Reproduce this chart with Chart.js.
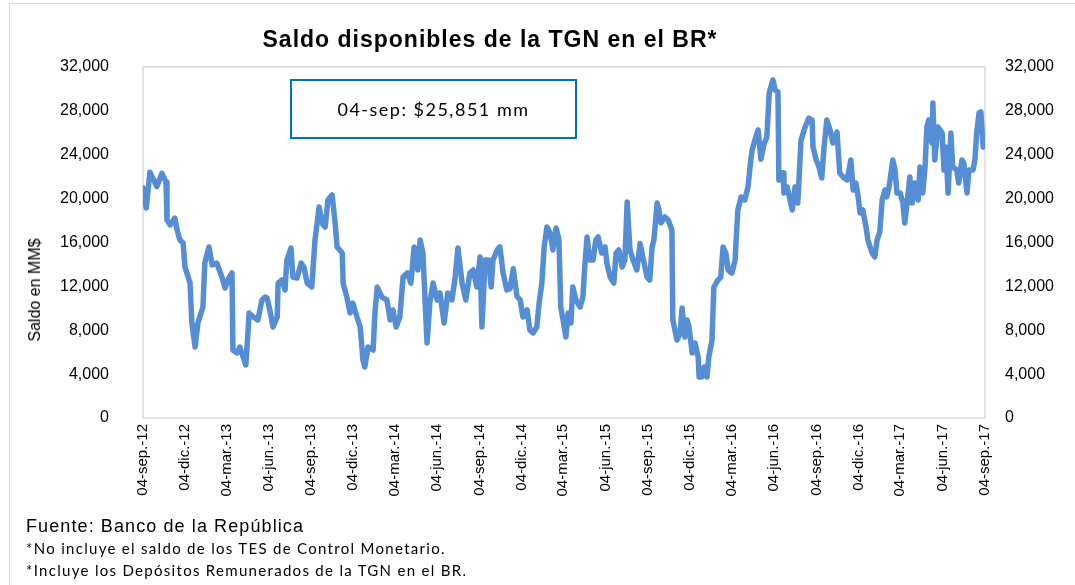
<!DOCTYPE html>
<html>
<head>
<meta charset="utf-8">
<script src="https://cdn.jsdelivr.net/npm/chart.js@4"></script>
<style>
  body { margin: 0; background: #fff; }
  #wrap { position: relative; width: 1075px; height: 585px; overflow: hidden; }
  #chart { position: absolute; left: 0; top: 0; }
  .txt { position: absolute; white-space: nowrap; color: #000; }
  #title { left: 0; width: 980px; top: 26px; text-align: center; font: bold 23px "Liberation Sans", Arial, sans-serif; letter-spacing: 1px; }
  #box { left: 290px; top: 79px; width: 283px; height: 56px; border: 2px solid #0070c0; font: 18px Lato, sans-serif; letter-spacing: 1.5px; line-height: 56px; text-align: center; }
  #ytitle { left: 35px; top: 290px; transform: translate(-50%, -50%) rotate(-90deg); font: 16px "Liberation Sans", Arial, sans-serif; }
  #fuente { left: 26px; top: 516px; font: 18px "Liberation Sans", Arial, sans-serif; letter-spacing: 1.1px; }
  #nota1 { left: 26px; top: 539px; font: 15px Lato, sans-serif; letter-spacing: 1.3px; }
  #nota2 { left: 26px; top: 561px; font: 15px Lato, sans-serif; letter-spacing: 1.3px; }
  #frame { position: absolute; left: 9px; top: 3px; width: 1070px; height: 600px; border: 1px solid #d9d9d9; }
</style>
</head>
<body>
<div id="wrap">
  <div id="frame"></div>
  <canvas id="chart" width="1075" height="585"></canvas>
  <div class="txt" id="title">Saldo disponibles de la TGN en el BR*</div>
  <div class="txt" id="box">04-sep: $25,851 mm</div>
  <div class="txt" id="ytitle">Saldo en MM$</div>
  <div class="txt" id="fuente">Fuente: Banco de la República</div>
  <div class="txt" id="nota1">*No incluye el saldo de los TES de Control Monetario.</div>
  <div class="txt" id="nota2">*Incluye los Depósitos Remunerados de la TGN en el BR.</div>
</div>
<script>
// dias desde el 04-sep-2012
const dias = [
  0, 7, 15, 30, 41, 50, 52, 59, 69, 74, 80, 87, 91, 98, 102, 106, 113, 119, 130, 134,
  143, 150, 160, 171, 178, 184, 193, 195, 204, 210, 217, 223, 228, 230, 239, 249, 258, 265, 269, 275,
  282, 291, 293, 301, 308, 312, 321, 325, 334, 343, 349, 356, 366, 373, 382, 388, 395, 401, 410, 416,
  421, 432, 434, 442, 449, 455, 464, 471, 477, 481, 488, 499, 503, 508, 518, 529, 536, 542, 549, 557,
  564, 573, 581, 588, 596, 601, 607, 616, 622, 629, 638, 644, 653, 661, 670, 677, 683, 692, 700, 709,
  716, 724, 731, 735, 742, 750, 755, 759, 768, 774, 781, 789, 796, 803, 811, 818, 824, 833, 839, 846,
  854, 859, 865, 870, 876, 883, 889, 896, 902, 906, 911, 917, 922, 928, 932, 939, 948, 954, 958, 963,
  969, 976, 982, 987, 995, 1002, 1006, 1013, 1021, 1026, 1032, 1039, 1045, 1050, 1056, 1063, 1071, 1078, 1084, 1093,
  1099, 1104, 1108, 1115, 1119, 1123, 1132, 1139, 1147, 1149, 1158, 1165, 1169, 1175, 1180, 1184, 1191, 1197, 1204, 1206,
  1212, 1217, 1223, 1227, 1234, 1238, 1247, 1253, 1258, 1264, 1269, 1277, 1284, 1290, 1297, 1305, 1312, 1318, 1321, 1327,
  1334, 1340, 1347, 1353, 1358, 1366, 1371, 1377, 1379, 1388, 1390, 1397, 1408, 1414, 1420, 1427, 1436, 1444, 1451, 1453,
  1460, 1466, 1472, 1477, 1483, 1490, 1496, 1505, 1511, 1520, 1527, 1535, 1540, 1546, 1551, 1555, 1561, 1568, 1572, 1581,
  1587, 1592, 1598, 1603, 1609, 1613, 1618, 1626, 1631, 1635, 1642, 1648, 1652, 1657, 1663, 1668, 1674, 1681, 1685, 1691,
  1696, 1700, 1704, 1711, 1713, 1717, 1724, 1733, 1737, 1741, 1746, 1752, 1756, 1765, 1769, 1776, 1780, 1787, 1791, 1800,
  1804, 1808, 1813, 1817, 1822, 1826
];

// saldo en miles de millones de pesos
const saldo = [
  21000, 19150, 22400, 21100, 22300, 21500, 18050, 17600, 18230, 17140, 16230, 15950, 13770, 12850, 12300, 8660, 6470, 8660, 10120, 14130,
  15590, 13950, 14130, 12850, 11850, 12580, 13220, 6200, 5930, 6470, 5560, 4830, 8020, 9570, 9210, 8930, 10760, 11030, 10940, 9850,
  8300, 9210, 12300, 12580, 11670, 14400, 15500, 12850, 12760, 14130, 13770, 12300, 11940, 16230, 19240, 17780, 17410, 19870, 20330, 18050,
  15590, 15040, 12300, 11030, 9570, 10480, 9210, 8300, 5290, 4650, 6470, 6200, 9570, 11940, 11030, 10760, 8930, 9850, 8300, 9210,
  12850, 13220, 12300, 15590, 13490, 16230, 15040, 6840, 10480, 12300, 10760, 11400, 8660, 11400, 10760, 12850, 15500, 12300, 10760, 13220,
  13490, 11940, 14680, 8300, 14400, 14400, 11940, 14400, 15320, 15590, 13220, 11670, 11800, 13600, 11100, 10760, 9210, 9850, 8020, 7750,
  8300, 10480, 12300, 15590, 17410, 16870, 15320, 17320, 16230, 10120, 8930, 7380, 9570, 8660, 11940, 10760, 10120, 11030, 13770, 16500,
  14400, 14400, 16230, 16500, 15040, 15590, 14130, 12850, 12300, 15040, 15320, 13770, 14400, 19690, 15320, 14400, 13490, 15900, 14680, 12850,
  12580, 15590, 16230, 19600, 18960, 17780, 18330, 18050, 17140, 8930, 7110, 7750, 10030, 7380, 8930, 8300, 5930, 6840, 5560, 3740,
  3740, 4650, 3740, 5560, 7110, 11940, 12580, 12850, 15590, 15040, 13490, 13220, 14400, 18960, 20150, 19870, 21060, 23520, 24430, 25340,
  26260, 23600, 25000, 25620, 29630, 30820, 29900, 29720, 21700, 22340, 20510, 21060, 18960, 21060, 19600, 25340, 26530, 27350, 27170, 24710,
  23520, 22880, 21880, 24710, 27170, 26260, 25070, 26070, 22340, 21880, 21700, 23520, 20790, 21420, 20150, 18690, 18960, 17410, 16230, 15040,
  14680, 16230, 17000, 19870, 20790, 20150, 21060, 23520, 22610, 20510, 20510, 19600, 17780, 19600, 21970, 19600, 21420, 19870, 22880, 20510,
  22880, 26530, 27170, 25070, 28720, 23520, 26530, 25980, 22610, 24710, 20510, 25980, 22880, 22610, 21420, 23520, 23250, 20510, 22610, 22610,
  23520, 25980, 27810, 27900, 24710, 25851
];

const fechasEje = [
  '2012-09-04', '2012-12-04', '2013-03-04', '2013-06-04', '2013-09-04', '2013-12-04', '2014-03-04',
  '2014-06-04', '2014-09-04', '2014-12-04', '2015-03-04', '2015-06-04', '2015-09-04', '2015-12-04',
  '2016-03-04', '2016-06-04', '2016-09-04', '2016-12-04', '2017-03-04', '2017-06-04', '2017-09-04'
];
const etiquetasEje = [
  '04-sep.-12', '04-dic.-12', '04-mar.-13', '04-jun.-13', '04-sep.-13', '04-dic.-13', '04-mar.-14',
  '04-jun.-14', '04-sep.-14', '04-dic.-14', '04-mar.-15', '04-jun.-15', '04-sep.-15', '04-dic.-15',
  '04-mar.-16', '04-jun.-16', '04-sep.-16', '04-dic.-16', '04-mar.-17', '04-jun.-17', '04-sep.-17'
];

const inicio = Date.parse(fechasEje[0]);
const diasEje = fechasEje.map(f => Math.round((Date.parse(f) - inicio) / 86400000));

const puntos = dias.map((d, i) => ({ x: d, y: saldo[i] }));

const fmt = v => v.toLocaleString('en-US');

const marco = {
  id: 'marco',
  beforeDatasetsDraw(chart) {
    const { ctx, chartArea: a } = chart;
    ctx.save();
    ctx.strokeStyle = '#d9d9d9';
    ctx.lineWidth = 1.5;
    ctx.strokeRect(a.left, a.top, a.right - a.left, a.bottom - a.top);
    ctx.restore();
  }
};

Chart.defaults.font.family = '"Liberation Sans", Arial, sans-serif';
Chart.defaults.color = '#000';

new Chart(document.getElementById('chart'), {
  type: 'line',
  data: {
    datasets: [{
      data: puntos,
      borderColor: '#558ed5',
      borderWidth: 5.5,
      pointRadius: 0,
      tension: 0,
      borderJoinStyle: 'round',
      borderCapStyle: 'round',
      yAxisID: 'y'
    }]
  },
  options: {
    responsive: false,
    animation: false,
    layout: { padding: { top: 67, left: 0, right: 0, bottom: 0 } },
    plugins: { legend: { display: false }, tooltip: { enabled: false } },
    scales: {
      x: {
        type: 'linear',
        min: 0,
        max: diasEje[diasEje.length - 1],
        afterBuildTicks: s => { s.ticks = diasEje.map(v => ({ value: v })); },
        afterFit: s => { s.height = 167; },
        grid: { display: false, drawTicks: false },
        border: { display: false },
        ticks: {
          autoSkip: false,
          minRotation: 90,
          maxRotation: 90,
          padding: 6,
          font: { size: 15 },
          callback: (v) => etiquetasEje[diasEje.indexOf(v)]
        }
      },
      y: {
        position: 'left',
        min: 0,
        max: 32000,
        afterFit: s => { s.width = 143; },
        grid: { display: false, drawTicks: false },
        border: { display: false },
        ticks: { stepSize: 4000, padding: 34, font: { size: 16 }, callback: fmt }
      },
      y1: {
        position: 'right',
        min: 0,
        max: 32000,
        afterFit: s => { s.width = 90; },
        grid: { display: false, drawTicks: false },
        border: { display: false },
        ticks: { stepSize: 4000, padding: 20, font: { size: 16 }, callback: fmt }
      }
    }
  },
  plugins: [marco]
});
</script>
</body>
</html>
